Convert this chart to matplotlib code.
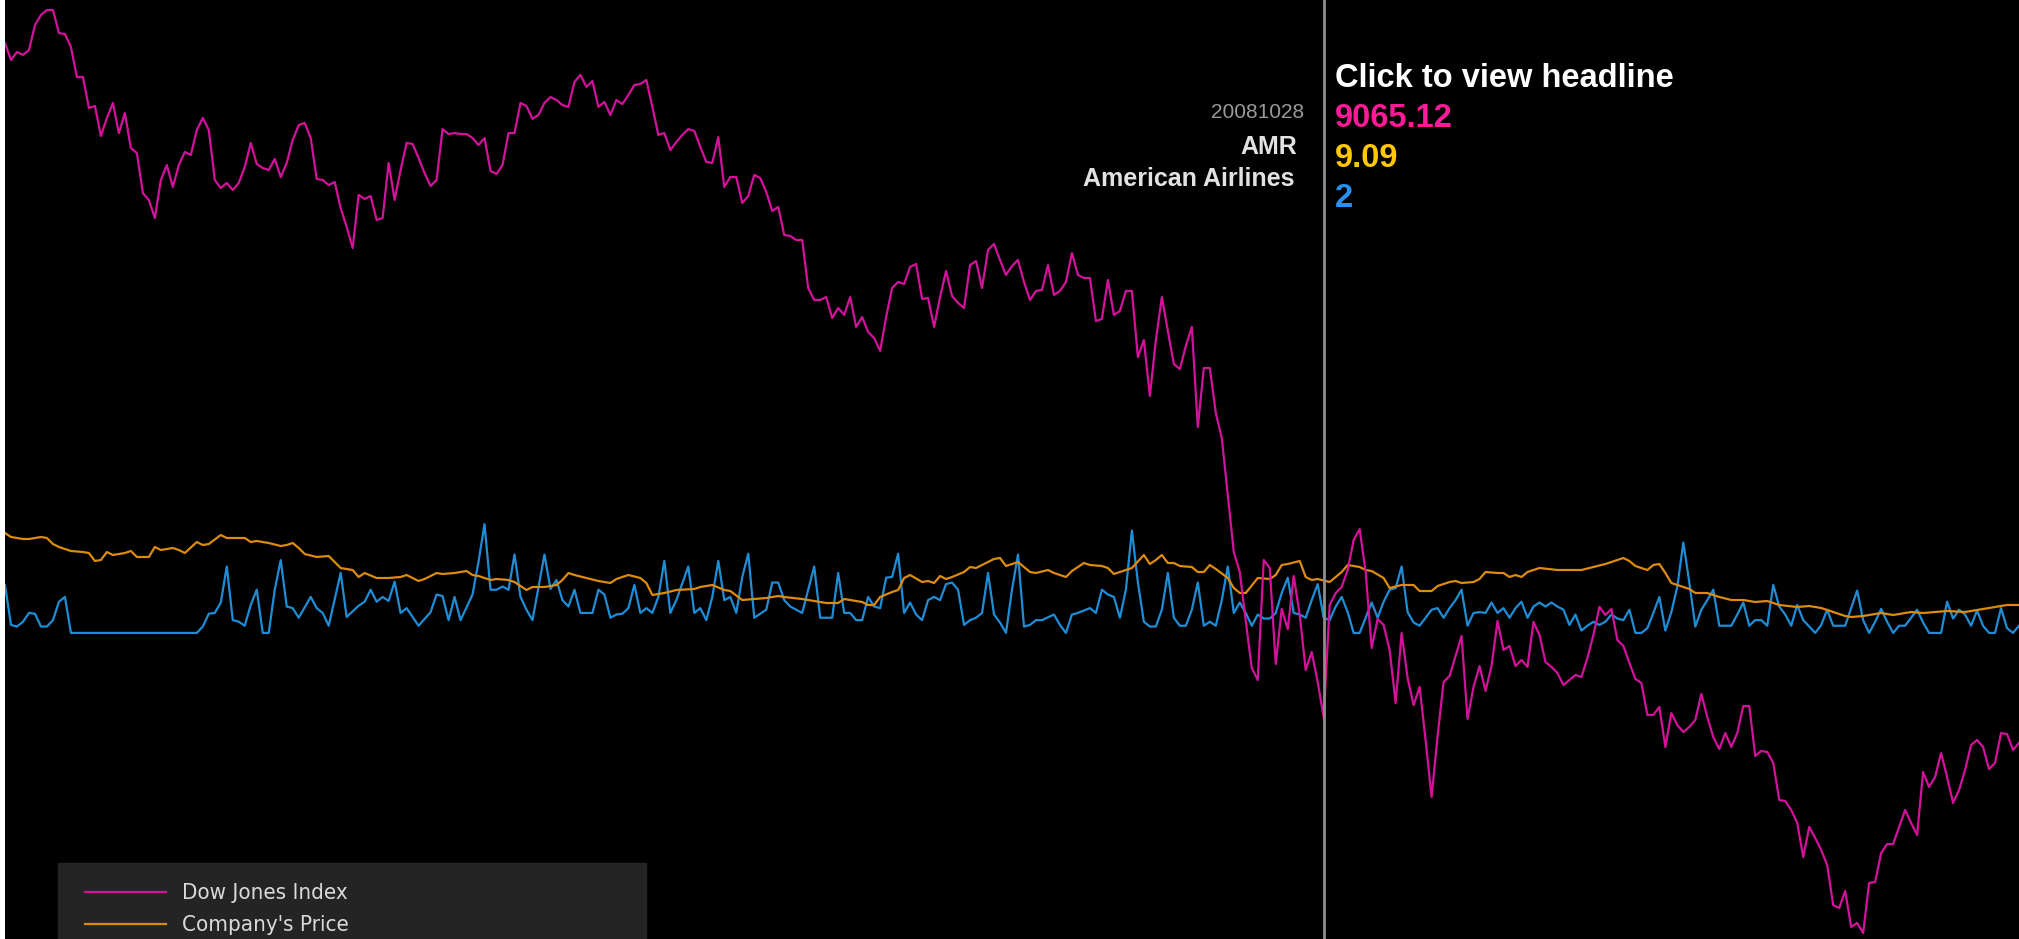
import matplotlib

matplotlib.use("Agg")
import matplotlib.pyplot as plt
from matplotlib import font_manager
from matplotlib.patches import Rectangle

# Dow Jones close, one value per trading day (day 0 .. 336)
dow_close = [
    13278, 13150, 13210, 13188, 13225, 13412, 13488, 13525, 13525, 13352,
    13345, 13248, 13022, 13022, 12790, 12805, 12580, 12715, 12828, 12602,
    12752, 12490, 12452, 12152, 12100, 11965, 12250, 12362, 12198, 12362,
    12460, 12438, 12625, 12715, 12625, 12250, 12190, 12228, 12175, 12228,
    12348, 12528, 12370, 12340, 12325, 12408, 12272, 12378, 12550, 12662,
    12678, 12565, 12258, 12250, 12212, 12235, 12040, 11898, 11740, 12138,
    12108, 12130, 11950, 11965, 12378, 12100, 12325, 12528, 12520, 12415,
    12302, 12205, 12250, 12632, 12595, 12602, 12595, 12595, 12565, 12512,
    12565, 12318, 12295, 12362, 12602,
    12602, 12828, 12805, 12708, 12738, 12828, 12872, 12850, 12812, 12798,
    12985, 13038, 12948, 12992, 12798, 12835, 12738, 12850, 12820, 12888,
    12962, 12970, 13000, 12798, 12588, 12602, 12475, 12535, 12588, 12632,
    12618, 12498, 12385, 12378, 12572, 12198, 12272, 12272, 12078, 12130,
    12288, 12265, 12160, 12018, 12048, 11838, 11830, 11800, 11800, 11440,
    11350, 11350, 11372, 11215, 11290, 11238, 11372, 11148, 11222, 11110,
    11065, 10968, 11222, 11440, 11485, 11470, 11598, 11620, 11358, 11365,
    11148, 11372, 11568, 11380, 11328, 11290, 11612, 11642, 11440, 11725,
    11770, 11650, 11538, 11605,
    11650, 11485, 11350, 11418, 11425, 11612, 11388, 11418, 11485, 11702,
    11538, 11515, 11515, 11192, 11208, 11500, 11238, 11268, 11418, 11418,
    10922, 11050, 10630, 11050, 11372, 11118, 10870, 10832, 11005, 11148,
    10398, 10840, 10840, 10502, 10315, 9888, 9460, 9310, 8942, 8590,
    8500, 9400, 9340, 8620, 9032, 8882, 9280, 8988, 8575, 8710,
    8485, 8222, 9062, 9152, 9198, 9325, 9550, 9632, 9310, 8740,
    8958, 8912, 8725, 8328, 8852, 8515, 8312, 8448, 8050, 7622,
    8080, 8485, 8530, 8680, 8830, 8208, 8448, 8605, 8418, 8605,
    8942, 8725, 8755, 8605, 8650,
    8598, 8935, 8838, 8635, 8598, 8552, 8462, 8500, 8538, 8522,
    8665, 8838, 9048, 8988, 9032, 8800, 8755, 8628, 8508, 8478,
    8238, 8238, 8298, 7998, 8252, 8162, 8110, 8148, 8200, 8395,
    8222, 8072, 7982, 8102, 7998, 8102, 8305, 8305, 7930, 7968,
    7960, 7878, 7600, 7592, 7525, 7428, 7172, 7398, 7315, 7225,
    7112, 6812, 6790, 6918, 6648, 6678, 6602, 6978, 6985, 7202,
    7270, 7270, 7398, 7525, 7428, 7338, 7810, 7698, 7772, 7952,
    7772, 7578, 7675, 7825, 8012, 8050, 7998, 7832, 7878, 8102,
    8095, 7975, 8028,
]

# company (AMR) share price
amr_day = [
    0, 1, 3, 4, 6, 7, 8, 9, 11, 13, 14, 15, 16, 17, 18, 20, 21, 22, 24, 25,
    26, 28, 29, 30, 32, 33, 34, 36, 37, 40, 41, 42, 44, 46, 47, 48, 49, 50, 52, 54,
    55, 56, 58, 59, 60, 62, 64, 66, 67, 69, 70, 72, 73, 75, 77, 78, 79, 81, 82, 84,
    85, 87, 88, 90, 92, 93, 94, 95, 97, 99,
    101, 102, 104, 106, 107, 108, 110, 112, 115, 116, 118, 120, 121, 123, 125, 127,
    129, 130, 133, 135, 137, 139, 140, 143, 144, 145, 146, 148, 149, 150, 151, 153,
    154, 155, 156, 157, 158, 160, 161, 162, 163, 165, 166, 167, 168, 169, 170, 171,
    172, 174, 175, 177, 178, 180, 181, 183,
    184, 185, 187, 188, 190, 191, 192, 193, 194, 195, 196, 198, 199, 200, 201, 202,
    204, 205, 206, 207, 209, 211, 212, 213, 214, 216, 217, 218, 219, 221, 222, 223,
    224, 226, 227, 228, 230, 231, 233, 235, 236, 238, 239, 241, 242, 243, 245, 246,
    247, 249, 250, 251,
    252, 253, 254, 256, 259, 261, 263, 265, 267, 268, 270, 271, 272, 274, 275, 276,
    277, 278, 280, 281, 282, 284, 286, 288, 290, 292, 294, 296, 299, 301, 303, 305,
    307, 308, 310, 312, 313, 315, 317, 318, 320, 322, 324, 327, 329, 331, 332, 334, 336,
]
amr_price = [
    18.5, 17.7, 17.3, 17.3, 17.7, 17.5, 16.3, 15.7, 14.9, 14.7, 14.5, 12.9, 13.1, 14.7,
    14.1, 14.5, 14.9, 13.7, 13.7, 15.7, 15.1, 15.5, 15.1, 14.5, 16.7, 16.1, 16.3, 18.1,
    17.5, 17.5, 16.7, 16.9, 16.5, 15.9, 16.1, 16.5, 15.5, 14.3, 13.7, 13.9, 12.7, 11.5,
    11.1, 9.7, 10.5, 9.5, 9.5, 9.7, 10.1, 8.9, 9.3, 10.5, 10.3, 10.5, 10.9, 10.1, 9.9,
    9.1, 9.3, 9.1, 8.7, 7.1, 7.7, 7.7, 8.1, 9.1, 10.5, 10.1, 9.5, 8.9,
    8.5, 9.3, 10.1, 9.5, 8.5, 6.1, 6.5, 7.1, 7.3, 7.7, 8.1, 7.1, 6.9, 5.1, 5.3, 5.5,
    5.9, 5.7, 5.3, 4.9, 4.5, 4.5, 5.3, 4.7, 4.1, 4.1, 5.7, 6.7, 7.1, 9.5, 10.1, 8.7,
    8.9, 8.5, 9.9, 9.3, 9.7, 10.7, 11.7, 11.5, 12.1, 13.3, 13.5, 11.9, 12.3, 12.7,
    11.7, 10.7, 10.5, 11.1, 10.5, 9.7, 10.9, 12.5, 12.1, 11.9,
    11.5, 10.3, 11.1, 11.5, 14.1, 12.3, 13.1, 14.1, 12.5, 12.5, 11.9, 11.7, 10.7, 10.7,
    12.1, 11.3, 9.5, 7.5, 6.5, 6.5, 9.5, 9.3, 10.1, 12.1, 12.3, 12.9, 9.7, 9.1, 9.3,
    8.7, 9.7, 10.7, 12.1, 11.7, 11.1, 10.9, 9.5, 7.5, 8.1, 8.1, 6.9, 6.9, 7.9, 8.7,
    8.9, 8.5, 8.7, 9.3, 10.7, 10.5, 10.5, 9.7,
    10.1, 9.7, 10.7, 11.5, 11.1, 11.1, 11.1, 11.7, 12.3, 12.7, 13.5, 12.9, 11.9, 11.1,
    12.1, 12.3, 10.5, 8.5, 7.7, 7.3, 6.5, 6.5, 5.7, 5.1, 5.1, 4.7, 4.9, 4.1, 3.7, 3.9,
    3.5, 2.7, 1.9, 1.7, 1.9, 2.3, 2.5, 2.1, 2.5, 2.7, 2.5, 2.7, 2.9, 2.7, 3.1, 3.5,
    3.7, 4.1, 4.1,
]

# headline count per day
news_day = [
    0, 1, 2, 3, 4, 5, 6, 7, 8, 9, 10, 11, 32, 33, 34, 35, 36, 37, 38, 39,
    40, 41, 42, 43, 44, 45, 46, 47, 48, 49, 51, 52, 53, 54, 56, 57, 59, 60, 61, 62,
    63, 64, 65, 66, 67, 69, 71, 72, 73, 74, 75, 76, 78, 79, 80, 81, 82, 83, 84, 85,
    86, 87, 88, 90, 91, 92, 93, 94, 95, 96, 98,
    99, 100, 101, 102, 103, 104, 105, 106, 107, 108, 109, 110, 111, 112, 114, 115,
    116, 117, 118, 119, 120, 121, 122, 123, 124, 125, 127, 128, 129, 130, 131, 133,
    134, 135, 136, 138, 139, 140, 141, 142, 143, 144, 145, 146, 147, 148, 149, 150,
    151, 152, 153, 154, 155, 156, 157, 158, 159, 160, 161, 162, 163, 164, 165, 166,
    167, 168, 169, 170, 171, 172, 173, 175, 176, 177, 178, 179, 181, 182, 183,
    184, 185, 186, 187, 188, 189, 190, 191, 192, 193, 194, 195, 196, 197, 198, 199,
    200, 201, 202, 203, 204, 205, 206, 207, 208, 209, 210, 211, 212, 213, 214, 215,
    216, 217, 218, 219, 220, 221, 222, 223, 224, 225, 226, 227, 228, 229, 230, 231,
    232, 233, 234, 235, 236, 237, 238, 239, 240, 241, 242, 243, 244, 245, 246, 247,
    248, 249, 250, 251, 252,
    253, 254, 255, 256, 257, 258, 259, 260, 261, 262, 263, 264, 265, 266, 267, 268,
    269, 270, 271, 272, 273, 274, 275, 276, 277, 278, 279, 280, 281, 282, 283, 284,
    285, 286, 288, 289, 290, 291, 292, 293, 294, 295, 296, 297, 298, 299, 300, 301,
    302, 303, 304, 305, 306, 307, 309, 310, 311, 312, 313, 314, 315, 316, 317, 319,
    320, 321, 323, 324, 325, 326, 327, 328, 329, 330, 331, 332, 333, 334, 335, 336,
]
news_count = [
    6.0, 1.0, 0.8, 1.4, 2.5, 2.4, 0.8, 0.8, 1.6, 3.9, 4.5, 0, 0, 0.8, 2.4, 2.5, 3.8, 8.3, 1.6, 1.4,
    0.9, 3.5, 5.4, 0, 0, 5.4, 9.1, 3.3, 3.1, 1.9, 4.5, 3.1, 2.5, 0.9, 7.5, 2.0, 3.4, 3.9, 5.4, 3.9,
    4.5, 4.0, 6.4, 2.5, 3.1, 0.9, 2.6, 4.8, 4.6, 1.6, 4.5, 1.6, 4.8, 8.9, 13.6, 5.4, 5.4, 5.8, 5.4, 9.8,
    4.5, 2.9, 1.6, 9.8, 5.5, 6.6, 4.1, 3.3, 5.4, 2.5, 2.5,
    5.4, 4.8, 1.9, 2.3, 2.4, 3.1, 6.0, 2.5, 3.1, 2.5, 4.5, 9.0, 2.5, 4.1, 8.3, 2.5,
    3.1, 1.6, 4.5, 9.0, 4.1, 4.5, 2.5, 7.0, 9.9, 1.9, 2.9, 6.3, 6.3, 4.1, 3.3, 2.5,
    5.4, 8.3, 1.9, 1.9, 7.5, 2.5, 2.5, 1.6, 1.6, 4.5, 3.3, 3.1, 6.9, 7.0, 9.9, 2.5,
    3.8, 2.3, 1.6, 4.1, 4.5, 4.1, 6.1, 6.3, 5.4, 1.0, 1.6, 1.9, 2.5, 7.5, 2.3, 1.3,
    0, 5.4, 9.8, 0.8, 1.0, 1.6, 1.6, 2.3, 1.0, 0, 2.3, 2.5, 3.1, 2.5, 5.4,
    4.8, 4.5, 1.9, 5.4, 12.8, 6.3, 1.4, 0.8, 0.8, 2.9, 7.5, 1.9, 0.9, 0.9, 2.9, 6.3,
    0.9, 1.4, 0.9, 4.1, 8.3, 2.5, 3.8, 2.5, 0.9, 2.3, 1.8, 1.8, 2.5, 5.0, 6.9, 2.5,
    2.3, 1.9, 4.1, 6.1, 1.9, 1.6, 3.3, 4.5, 2.6, 0, 0, 1.9, 3.8, 1.9, 3.9, 5.4,
    5.6, 8.3, 2.6, 1.3, 0.9, 1.9, 2.9, 3.1, 1.9, 3.1, 4.1, 5.4, 0.9, 2.5, 2.6, 2.5,
    3.8, 2.5, 3.1, 1.9, 3.1,
    3.9, 1.9, 3.3, 3.8, 3.3, 3.8, 3.3, 2.9, 1.0, 2.3, 0.3, 0.9, 1.4, 1.0, 1.4, 2.3,
    1.8, 1.6, 2.9, 0, 0, 0.6, 2.5, 4.5, 0.3, 2.6, 5.8, 11.3, 6.3, 0.8, 2.9, 4.1,
    5.4, 0.9, 0.9, 2.3, 3.8, 0.9, 1.6, 1.6, 0.9, 6.0, 3.3, 2.3, 0.9, 3.5, 1.6, 0.8,
    0, 1.0, 2.9, 0.9, 0.9, 0.9, 5.3, 1.6, 0, 1.4, 3.0, 1.4, 0, 0.9, 0.9, 2.9,
    1.3, 0, 0, 3.9, 1.8, 2.9, 2.3, 0.9, 2.8, 0.9, 0, 0, 3.1, 0.6, 0, 0.9,
]

cursor_day = 220
cursor_date = "20081028"
ticker = "AMR"
company = "American Airlines"
dow_label = "9065.12"
price_label = "9.09"
news_label = "2"

W, H = 2019, 939
PINK = "#d3129b"
ORANGE = "#dc8b0c"
BLUE = "#1f8dd6"
LW = 1.6


def legend_font():
    # the legend in the original uses a condensed face
    fonts = font_manager.fontManager.ttflist
    for f in fonts:
        if f.name == "Liberation Sans Narrow":
            return dict(family="Liberation Sans Narrow", fontsize=18)
    for f in fonts:
        if f.name == "DejaVu Sans" and f.stretch == "condensed":
            return dict(family="DejaVu Sans", fontstretch="condensed", fontsize=16)
    return dict(family="Liberation Sans", fontsize=15)


def plot(out_path):
    fig = plt.figure(figsize=(W / 100, H / 100), dpi=100, facecolor="white")
    left = 5 / W
    ax = fig.add_axes([left, 0, 1 - left, 1])
    ax.set_facecolor("black")
    ax_p = ax.twinx()
    ax_d = ax.twinx()

    ax.plot(news_day, news_count, color=BLUE, lw=LW)
    ax_p.plot(amr_day, amr_price, color=ORANGE, lw=LW)
    ax_d.plot(range(len(dow_close)), dow_close, color=PINK, lw=LW)
    ax_d.axvline(cursor_day, color="#8e8e8e", lw=2.0, zorder=5)

    ax.set_xlim(0, len(dow_close) - 1)
    ax.set_ylim(-38.25, 79.1)
    ax_p.set_ylim(-62.7, 125.1)
    ax_d.set_ylim(6557.5, 13600)
    for a in (ax, ax_p, ax_d):
        a.set_xticks([])
        a.set_yticks([])
        for s in a.spines.values():
            s.set_visible(False)

    # overlay in pixel units for the labels and the legend box
    ov = fig.add_axes([0, 0, 1, 1])
    ov.set_xlim(0, W)
    ov.set_ylim(H, 0)
    ov.axis("off")
    ov.patch.set_visible(False)

    x_line = 5 + (W - 5) * cursor_day / (len(dow_close) - 1)
    sans = "Liberation Sans"
    xr = x_line + 11
    ov.text(xr, 87, "Click to view headline", color="white", fontsize=23.5,
            fontweight="bold", family=sans, va="baseline", ha="left")
    ov.text(xr, 127, dow_label, color="#ff1a98", fontsize=23.5,
            fontweight="bold", family=sans, va="baseline", ha="left")
    ov.text(xr, 167, price_label, color="#ffc800", fontsize=23.5,
            fontweight="bold", family=sans, va="baseline", ha="left")
    ov.text(xr, 207, news_label, color="#2b8ff0", fontsize=23.5,
            fontweight="bold", family=sans, va="baseline", ha="left")

    ov.text(x_line - 20, 118, cursor_date, color="#9a9a9a", fontsize=15,
            family=sans, va="baseline", ha="right")
    ov.text(x_line - 27, 154, ticker, color="#e2e2e2", fontsize=18,
            fontweight="bold", family=sans, va="baseline", ha="right")
    ov.text(x_line - 29, 186, company, color="#e2e2e2", fontsize=18,
            fontweight="bold", family=sans, va="baseline", ha="right")

    # legend panel, cut off by the bottom edge
    ov.add_patch(Rectangle((58, 863), 588, 120, color="#242424", zorder=1))
    lf = legend_font()
    ov.plot([85, 166], [892, 892], color=PINK, lw=LW, zorder=2)
    ov.plot([85, 166], [924, 924], color=ORANGE, lw=LW, zorder=2)
    ov.text(182, 899, "Dow Jones Index", color="#dadada",
            va="baseline", ha="left", zorder=3, **lf)
    ov.text(182, 931, "Company's Price", color="#dadada",
            va="baseline", ha="left", zorder=3, **lf)

    fig.savefig(out_path, dpi=100, facecolor="white")
    plt.close(fig)


if __name__ == "__main__":
    plot("out.png")
